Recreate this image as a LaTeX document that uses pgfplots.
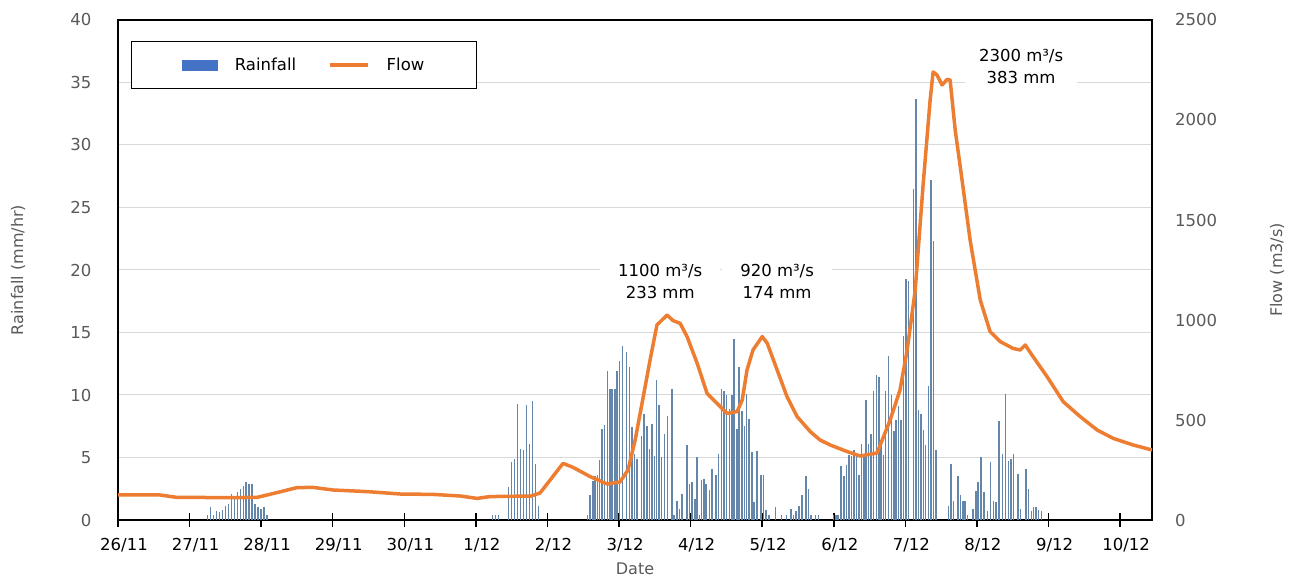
\documentclass[border=0pt]{standalone}
\usepackage{fontspec}
\setmainfont{DejaVu Sans}
\usepackage{pgfplots}
\pgfplotsset{compat=1.18}
\definecolor{rainc}{RGB}{100,134,170}
\definecolor{legblue}{RGB}{68,114,196}
\definecolor{flowc}{RGB}{237,125,49}
\definecolor{gridc}{RGB}{217,217,217}
\definecolor{labc}{RGB}{89,89,89}
\begin{document}
\fontsize{16.5}{20}\selectfont
\begin{tikzpicture}
\useasboundingbox (-118pt,-60pt) rectangle (1171pt,520pt);
\begin{axis}[
  scale only axis, width=1034pt, height=500pt,
  xmin=0, xmax=346.7, ymin=0, ymax=40,
  xtick={0,24,...,336},
  xticklabels={26/11,27/11,28/11,29/11,30/11,1/12,2/12,3/12,4/12,5/12,6/12,7/12,8/12,9/12,10/12},
  xtick pos=lower, ytick pos=left,
  tick align=center, major tick length=13pt,
  xtick style={black, line width=1.5pt},
  ytick style={draw=none},
  ytick={0,5,...,40},
  ymajorgrids, major grid style={gridc, line width=1pt},
  axis line style={black, line width=1.5pt},
  /pgf/number format/assume math mode=true,
  yticklabel style={labc, anchor=east, inner sep=0pt, xshift=-20pt},
  xticklabel style={black, anchor=north, inner sep=0pt, yshift=-12pt, xshift=6pt},
  ylabel={Rainfall (mm/hr)},
  every axis y label/.style={at={(axis description cs:-0.0967,0.5)}, rotate=90, anchor=center, labc, font=\fontsize{16}{19}\selectfont},
  xlabel={Date},
  every axis x label/.style={at={(axis description cs:0.5,-0.098)}, anchor=center, labc, font=\fontsize{16}{19}\selectfont},
]
\addplot[ycomb, rainc, line width=1.5pt, mark=none] coordinates {
(30,0.4)(31,1.0)(32,0.4)(33,0.75)(34,0.6)(35,0.8)(36,1.1)(37,1.3)(38,2.1)(39,1.8)(40,2.2)(41,2.5)(42,2.7)(43,3.0)(44,2.9)(45,2.9)(46,1.3)(47,1.0)(48,0.9)(49,1.0)(50,0.4)
(125.5,0.4)(126.5,0.4)(127.5,0.4)
(131,2.6)(132,4.6)(133,4.9)(134,9.3)(135,5.7)(136,5.6)(137,9.2)(138,6.1)(139,9.5)(140,4.5)(141,1.1)
(157.4,0.4)(158.3,2.0)(159.2,3.1)(160.0,3.5)(160.7,3.6)(161.4,4.8)(162.3,7.3)(163.1,7.6)(164.2,11.9)(165.0,10.5)(165.7,10.5)(166.6,10.5)(167.3,11.9)(168.2,12.7)(169.1,13.9)(170.5,13.4)(171.5,12.2)(172.4,7.4)(173.1,5.3)(174.0,4.9)(175.5,6.7)(176.4,8.5)(177.3,7.5)(178.2,5.7)(179.1,7.7)(179.8,5.1)(180.6,11.2)(181.4,9.2)(182.3,5.0)(183.2,6.9)(184.2,8.3)(185.7,10.5)(186.4,0.4)(187.4,1.5)(188.2,0.9)(189.1,2.1)(190.7,6.0)(191.6,2.9)(192.4,3.0)(193.5,1.7)(194.2,5.0)(194.9,0.4)(195.7,3.2)(196.5,3.3)(197.2,2.9)(198.3,2.4)(199.2,4.1)(200.5,3.6)(201.3,5.3)(202.3,10.5)(203.2,10.3)(204.1,10.0)(205.0,8.9)(205.8,10.0)(206.6,14.5)(207.5,7.3)(208.2,12.2)(209.2,8.7)(210.0,7.5)(210.8,10.1)(211.6,8.1)(212.5,5.4)(213.3,1.4)(214.2,5.5)(215.6,3.6)(216.4,3.6)(217.3,0.8)(218.2,0.4)(220.5,1.0)(222.5,0.4)(224.2,0.4)(225.6,0.9)(226.5,0.4)(227.4,0.7)(228.3,1.1)(229.4,2.0)(230.7,3.5)(231.5,2.5)(232.4,0.4)(233.8,0.4)(234.8,0.4)
(239.9,0.4)(240.7,0.4)(241.4,0.4)(242.4,4.3)(243.4,3.5)(244.2,4.4)(245.1,5.2)(245.9,5.1)(246.7,5.6)(247.6,5.2)(248.5,3.6)(249.3,6.1)(250.1,5.3)(250.8,9.6)(251.6,6.1)(252.4,6.9)(253.3,10.3)(254.3,11.6)(255.1,11.4)(255.8,5.9)(256.6,5.2)(257.4,10.3)(258.4,13.1)(259.3,10.0)(260.1,7.1)(260.8,8.0)(261.7,9.1)(262.5,8.0)(263.3,14.7)(264.2,19.3)(265.0,19.1)(266.7,26.5)(267.6,33.7)(268.4,8.8)(269.2,8.5)(270.0,7.2)(270.8,6.0)(271.7,10.7)(272.6,27.2)(273.4,22.3)(274.3,5.6)
(278.4,1.1)(279.3,4.5)(280.2,1.5)(281.6,3.5)(282.5,2.0)(283.3,1.5)(284.0,1.5)(284.8,0.4)(286.6,0.9)(287.6,2.3)(288.4,3.0)(289.3,5.0)(290.3,2.2)(291.6,0.7)(292.6,4.6)(293.5,1.5)(294.3,1.4)(295.4,7.9)(296.5,5.3)(297.5,10.1)(298.5,4.7)(299.4,4.9)(300.2,5.3)(301.7,3.7)(302.6,0.9)(304.4,4.1)(305.3,2.5)(306.2,0.7)(306.9,1.0)(307.8,1.0)(308.7,0.8)(309.6,0.7)
};
\end{axis}
\begin{axis}[
  scale only axis, width=1034pt, height=500pt,
  xmin=0, xmax=346.7, ymin=0, ymax=2500,
  axis x line=none, axis y line*=right,
  axis line style={black, line width=1.5pt},
  ytick={0,500,...,2500}, ytick style={draw=none},
  /pgf/number format/assume math mode=true,
  /pgf/number format/1000 sep={},
  yticklabel style={labc, anchor=west, inner sep=0pt, xshift=23pt},
  ylabel={Flow (m3/s)},
  every axis y label/.style={at={(axis description cs:1.1209,0.5)}, rotate=90, anchor=center, labc, font=\fontsize{16}{19}\selectfont},
  legend style={at={(axis description cs:0.0126,0.958)}, anchor=north west, draw=black, line width=1.2pt, fill=white,
    inner xsep=50pt, inner ysep=14pt, legend columns=2,
    /tikz/every odd column/.append style={column sep=15pt},
    /tikz/every even column/.append style={column sep=30pt}},
]
\addlegendimage{legend image code/.code={\fill[legblue] (0pt,-5pt) rectangle (35pt,5pt);}}
\addlegendentry{Rainfall}
\addplot[flowc, line width=3.5pt, line join=round, mark=none,
  legend image code/.code={\draw[flowc, line width=3.5pt] (0pt,0pt) -- (38pt,0pt);}] coordinates {
(0,125)(14.1,125)(19.8,113)(38.6,112)(46.6,113)(53.3,137)(60,162)(65.4,163)(72.1,150)(83.5,142)(94.6,130)(105.6,128)(114.7,120)(120.4,108)(124.7,117)(138.5,120)(141.5,135)(144.9,200)(149.2,283)(152.6,263)(158.3,217)(164,180)(168.3,190)(171,250)(173.4,400)(175.7,583)(178.4,800)(180.7,975)(184.1,1025)(186.1,997)(188.5,983)(190.8,917)(194.2,783)(197.5,633)(201.9,567)(204.2,533)(207.6,542)(209.3,600)(210.9,750)(212.9,850)(216,917)(217.7,883)(221,750)(224.3,617)(227.7,517)(232.1,442)(235.4,400)(238.8,375)(244.5,342)(248.8,320)(254.5,335)(258.9,500)(262.2,650)(264.6,850)(267.3,1150)(269.9,1667)(272.3,2100)(273.3,2240)(274.6,2225)(276.3,2175)(278,2203)(279,2200)(280.7,1950)(283,1700)(285.7,1400)(289.1,1100)(292.4,942)(295.8,892)(300.1,858)(302.5,850)(304.2,875)(306.8,817)(311.5,717)(316.9,592)(322.6,517)(328.3,450)(333.7,408)(340.4,375)(346.7,350)
};
\addlegendentry{Flow}
\node[fill=white, align=center, inner xsep=18pt, inner ysep=2pt, font=\fontsize{16.5}{22}\selectfont] at (axis cs:181.8,1195) {1100 m³/s\\233 mm};
\node[fill=white, align=center, inner xsep=18pt, inner ysep=2pt, font=\fontsize{16.5}{22}\selectfont] at (axis cs:221,1195) {920 m³/s\\174 mm};
\node[fill=white, align=center, inner xsep=14pt, inner ysep=2pt, font=\fontsize{16.5}{22}\selectfont] at (axis cs:302.8,2265) {2300 m³/s\\383 mm};
\end{axis}
\end{tikzpicture}
\end{document}
